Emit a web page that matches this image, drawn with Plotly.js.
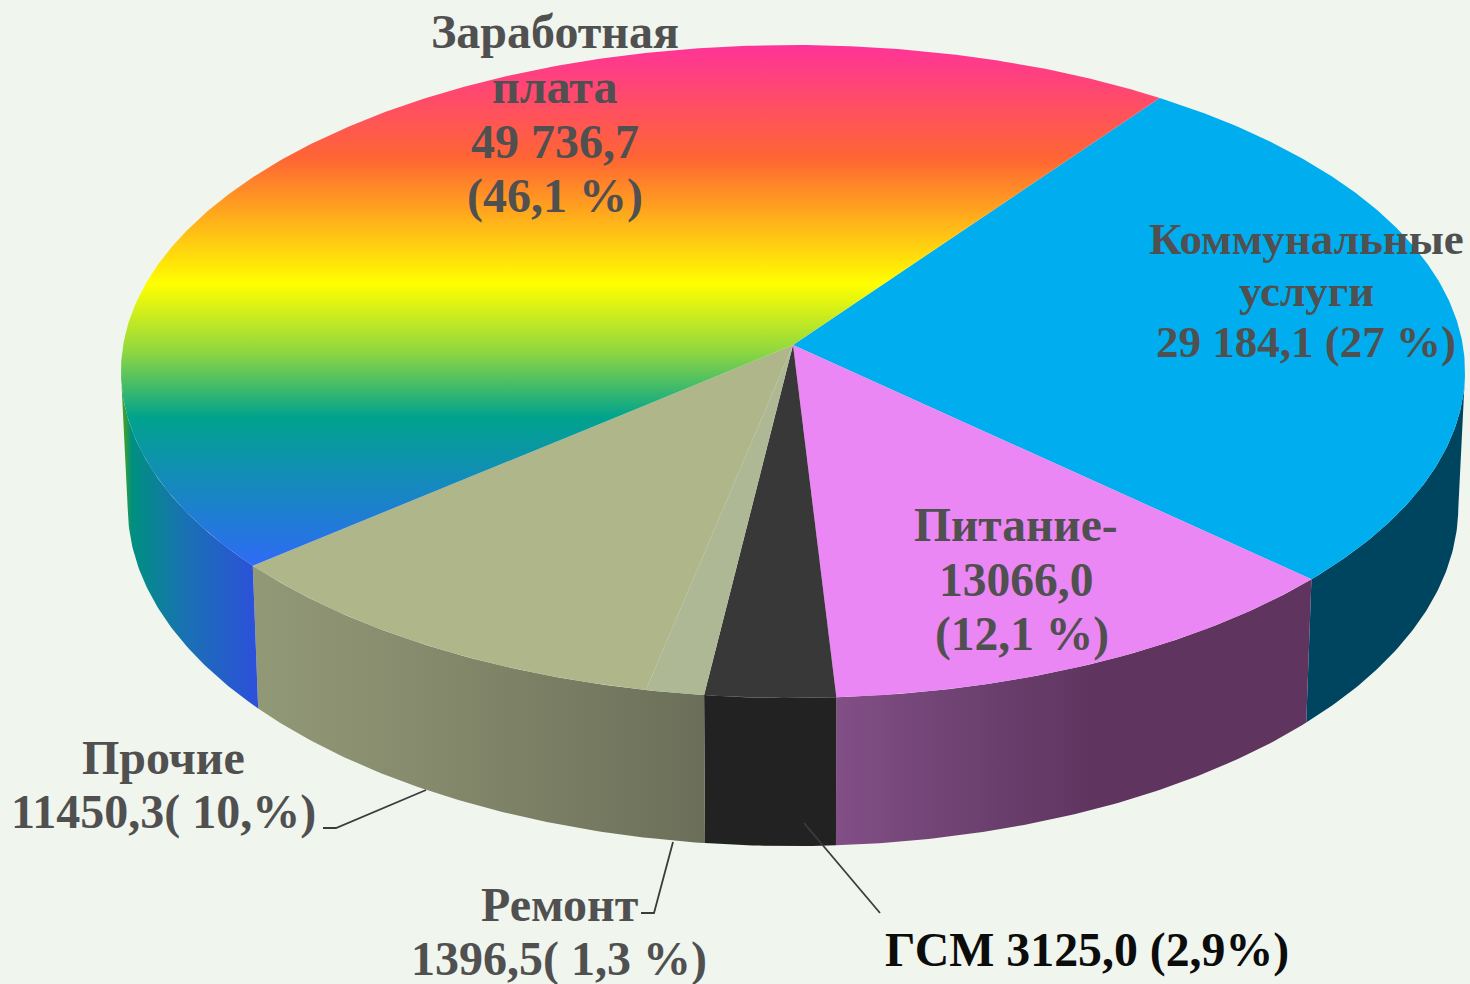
<!DOCTYPE html>
<html><head><meta charset="utf-8">
<script src="https://cdn.plot.ly/plotly-3.0.1.min.js"></script>
<style>html,body{margin:0;padding:0;background:#F0F5EE;overflow:hidden}#c{width:1470px;height:984px}</style>
</head><body><div id="c"></div>
<script>
// Data, in the order of the slices, clockwise
const categories = ['Коммунальные услуги','Питание','ГСМ','Ремонт','Прочие','Заработная плата'];
const values = [29184.1,13066.0,3125.0,1396.5,11450.3,49736.7];
const labelLines = [
  ['Коммунальные','услуги','29 184,1 (27 %)'],
  ['Питание-','13066,0','(12,1 %)'],
  ['ГСМ 3125,0 (2,9%)'],
  ['Ремонт','1396,5( 1,3 %)'],
  ['Прочие','11450,3( 10,%)'],
  ['Заработная','плата','49 736,7','(46,1 %)']
];
// Styles and layout
const topFill = ['#00AEEF','#EB87F5','#383838','#AEB894','#AFB68A',null];
const wallFill = ['#004560',null,'#222222',null,null,null];
const labelX = [[1306,1306,1306],[1016,1016,1022],[1087],[559,559],[163,163],[555,555,555,555]];
const labelY = [[239,291,342],[525,580,634],[950],[904,959],[757,812],[31,86,141,196]];
const labelSize = [45,47.5,47.8,48,48,48];
const labelColor = ['#505050','#505050','#0C0C0C','#505050','#505050','#505050'];
const leaderX = [[323,336,426],[641,654,673],[804,880]];
const leaderY = [[828,828,790],[913,913,842],[823,913]];
const startAngle = 35.7;
const rainbow = {type:'vertical',start:45,stop:565,colorscale:[[0,'#FF3399'],[0.22,'#FF6633'],[0.46,'#FFFF00'],[0.587,'#92D83F'],[0.715,'#00A38D'],[1,'#2E6BF5']]};
const rainbowWall = {type:'horizontal',start:124,stop:252,colorscale:[[0,'#3FA02A'],[0.06,'#009080'],[0.5,'#1A70B5'],[1,'#2B52D8']]};
const khakiWall = {type:'horizontal',start:250,stop:703,colorscale:[[0,'#929977'],[0.4,'#858A6C'],[1,'#6B6F59']]};
const pinkWall = {type:'horizontal',start:835,stop:1307,colorscale:[[0,'#824F86'],[0.35,'#693E6C'],[0.55,'#5F3560'],[1,'#5F3560']]};

// Projection of the disc onto the picture
const cx=793, cy=345, persp=0.0812, a=324.3, b=669.8;
const wallShiftY=134, wallScaleY=1.04, wallScaleX=0.99;
function topPt(deg){
  const t=deg*Math.PI/180, X=Math.sin(t), Y=-Math.cos(t), w=1-persp*Y;
  return [b*X/w, a*Y/w];
}
function arcAngles(d0,d1){const n=Math.max(2,Math.ceil(Math.abs(d1-d0))*2),p=[];for(let i=0;i<=n;i++)p.push(d0+(d1-d0)*i/n);return p;}
function poly(pts,extra){
  return Object.assign({type:'scatter',mode:'lines',x:pts.map(p=>p[0]),y:pts.map(p=>p[1]),fill:'toself',line:{width:0},hoverinfo:'skip',showlegend:false},extra);
}
function topSlice(d0,d1,extra){
  const pts=[[cx,cy]].concat(arcAngles(d0,d1).map(d=>{const p=topPt(d);return [cx+p[0],cy+p[1]];}));
  pts.push([cx,cy]);
  return poly(pts,extra);
}
function wallPiece(d0,d1,extra){
  const up=arcAngles(d0,d1).map(d=>{const p=topPt(d);return [cx+p[0],cy+p[1]];});
  const lo=arcAngles(d1,d0).map(d=>{const p=topPt(d);return [cx+p[0]*wallScaleX,cy+wallShiftY+p[1]*wallScaleY];});
  return poly(up.concat(lo,[up[0]]),extra);
}
const total=values.reduce((s,v)=>s+v,0);
const edges=[startAngle];
values.forEach(v=>edges.push(edges[edges.length-1]+v/total*360));

const walls=[], tops=[];
walls.push(wallPiece(Math.max(edges[0],95),edges[1],{fillcolor:wallFill[0]}));
walls.push(wallPiece(edges[1],edges[2],{fillgradient:pinkWall}));
walls.push(wallPiece(edges[2],edges[3],{fillcolor:wallFill[2]}));
walls.push(wallPiece(edges[3],edges[5],{fillgradient:khakiWall}));
walls.push(wallPiece(edges[5],265,{fillgradient:rainbowWall}));
values.forEach((v,i)=>{
  tops.push(topSlice(edges[i],edges[i+1],topFill[i]?{fillcolor:topFill[i]}:{fillgradient:rainbow}));
});
const leaders=leaderX.map((xs,i)=>({type:'scatter',mode:'lines',x:xs,y:leaderY[i],line:{color:'#3C3C3C',width:1.8},hoverinfo:'skip',showlegend:false}));

const annotations=[];
labelLines.forEach((lines,i)=>lines.forEach((t,j)=>annotations.push({
  x:labelX[i][j],y:labelY[i][j],xref:'x',yref:'y',text:t,showarrow:false,xanchor:'center',yanchor:'middle',
  font:{family:'"Liberation Serif",serif',size:labelSize[i],color:labelColor[i],weight:700}
})));

Plotly.newPlot('c',walls.concat(tops,leaders),{
  width:1470,height:984,margin:{l:0,r:0,t:0,b:0},
  paper_bgcolor:'#F0F5EE',plot_bgcolor:'#F0F5EE',showlegend:false,
  xaxis:{range:[0,1470],visible:false,fixedrange:true},
  yaxis:{range:[984,0],visible:false,fixedrange:true},
  annotations
},{displayModeBar:false,staticPlot:true});
</script></body></html>
